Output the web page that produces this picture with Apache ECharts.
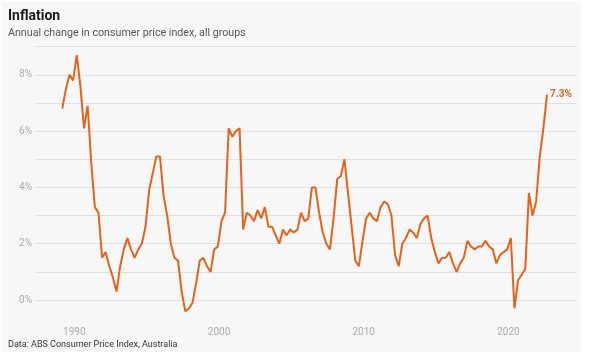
<!DOCTYPE html>
<html>
<head>
<meta charset="utf-8">
<script src="https://cdn.jsdelivr.net/npm/echarts@6/dist/echarts.min.js"></script>
<style>
html,body{margin:0;padding:0;background:#ffffff;}
#chart{width:600px;height:356px;}
</style>
</head>
<body>
<div id="chart"></div>
<script>
// Quarter-end months, March 1989 to September 2022
var startYear = 1989;
var quarterMonths = [3, 6, 9, 12];
// Annual % change in CPI, all groups
var cpiValues = [
  6.8, 7.5, 8.0, 7.8,   // 1989
  8.7, 7.6, 6.1, 6.9,   // 1990
  4.9, 3.3, 3.1, 1.5,   // 1991
  1.7, 1.2, 0.8, 0.3,   // 1992
  1.2, 1.8, 2.2, 1.8,   // 1993
  1.5, 1.8, 2.0, 2.6,   // 1994
  3.9, 4.5, 5.1, 5.1,   // 1995
  3.7, 3.0, 2.0, 1.5,   // 1996
  1.4, 0.3, -0.4, -0.3, // 1997
  -0.1, 0.6, 1.4, 1.5,  // 1998
  1.2, 1.0, 1.8, 1.9,   // 1999
  2.8, 3.1, 6.1, 5.8,   // 2000
  6.0, 6.1, 2.5, 3.1,   // 2001
  3.0, 2.8, 3.2, 2.9,   // 2002
  3.3, 2.6, 2.6, 2.3,   // 2003
  2.0, 2.5, 2.3, 2.5,   // 2004
  2.4, 2.5, 3.1, 2.8,   // 2005
  2.9, 4.0, 4.0, 3.1,   // 2006
  2.4, 2.0, 1.8, 2.9,   // 2007
  4.3, 4.4, 5.0, 3.8,   // 2008
  2.6, 1.4, 1.2, 2.1,   // 2009
  2.9, 3.1, 2.9, 2.8,   // 2010
  3.3, 3.5, 3.4, 3.0,   // 2011
  1.6, 1.2, 2.0, 2.2,   // 2012
  2.5, 2.4, 2.2, 2.7,   // 2013
  2.9, 3.0, 2.2, 1.7,   // 2014
  1.3, 1.5, 1.5, 1.7,   // 2015
  1.3, 1.0, 1.3, 1.5,   // 2016
  2.1, 1.9, 1.8, 1.9,   // 2017
  1.9, 2.1, 1.9, 1.8,   // 2018
  1.3, 1.6, 1.7, 1.8,   // 2019
  2.2, -0.3, 0.7, 0.9,  // 2020
  1.1, 3.8, 3.0, 3.5,   // 2021
  5.1, 6.1, 7.3         // 2022
];
var xTickYears = [1990, 2000, 2010, 2020];
var yTickValues = [0, 2, 4, 6, 8];

var title = 'Inflation';
var subtitle = 'Annual change in consumer price index, all groups';
var source = 'Data: ABS Consumer Price Index, Australia';

// Build [decimalYear, value] pairs: first day of the quarter-end month
var seriesData = cpiValues.map(function (v, i) {
  var y = startYear + Math.floor(i / 4);
  var m = quarterMonths[i % 4];
  return [y + (m - 1) / 12, v];
});

var chart = echarts.init(document.getElementById('chart'), null, {renderer: 'canvas'});
var FONT = 'Roboto, "Noto Sans", sans-serif';
var ORANGE = '#e4621a';

chart.setOption({
  animation: false,
  backgroundColor: '#ffffff',
  graphic: [
    {type: 'rect', z: -10, silent: true, shape: {x: 2, y: 2, width: 579, height: 350}, style: {fill: '#f7f7f7'}},
    {type: 'text', left: 8, top: 9, style: {text: title, fill: '#1a1a1a', font: 'bold 14px ' + FONT}},
    {type: 'text', left: 8, top: 28, style: {text: subtitle, fill: '#555555', font: '10.7px ' + FONT}},
    {type: 'text', left: 8, top: 340, style: {text: source, fill: '#333333', font: '9px ' + FONT}}
  ],
  grid: {left: 35, right: 23, top: 46.7, bottom: 56, containLabel: false},
  xAxis: {
    type: 'value',
    min: 1987.28,
    max: 2024.74,
    axisLine: {show: false},
    axisTick: {show: false},
    splitLine: {show: false},
    axisLabel: {
      customValues: xTickYears,
      color: '#ababab',
      fontSize: 10,
      fontFamily: FONT,
      margin: 27,
      formatter: function (v) { return String(Math.round(v)); }
    }
  },
  yAxis: {
    type: 'value',
    min: 0,
    max: 9,
    interval: 1,
    axisLine: {show: false},
    axisTick: {show: false},
    splitLine: {show: true, lineStyle: {color: '#dfe0e4', width: 1}},
    axisLabel: {
      color: '#ababab',
      fontSize: 10,
      fontFamily: FONT,
      margin: 3,
      formatter: function (v) { return yTickValues.indexOf(v) >= 0 ? v + '%' : ''; }
    }
  },
  series: [{
    type: 'line',
    data: seriesData,
    clip: false,
    symbol: 'none',
    lineStyle: {color: ORANGE, width: 2},
    itemStyle: {color: ORANGE},
    endLabel: {
      show: true,
      distance: 3,
      color: ORANGE,
      fontWeight: 'bold',
      fontSize: 10,
      fontFamily: FONT,
      formatter: function (p) { return p.value[1].toFixed(1) + '%'; }
    }
  }]
});
</script>
</body>
</html>
